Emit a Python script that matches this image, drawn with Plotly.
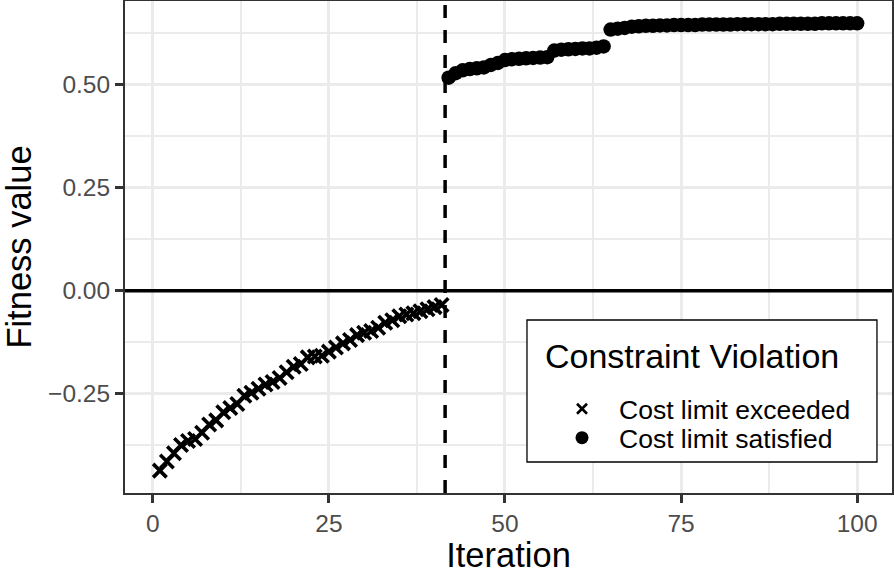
import plotly.graph_objects as go

# Data: fitness value per iteration
exceeded_iter = list(range(1, 42))
exceeded_fit = [-0.437, -0.415, -0.395, -0.375, -0.365, -0.360, -0.345, -0.325, -0.315, -0.295,
                -0.285, -0.275, -0.255, -0.248, -0.238, -0.228, -0.222, -0.212, -0.198, -0.185,
                -0.178, -0.162, -0.160, -0.158, -0.148, -0.138, -0.128, -0.120, -0.108, -0.102,
                -0.098, -0.090, -0.078, -0.072, -0.062, -0.058, -0.055, -0.050, -0.045, -0.040,
                -0.035]
satisfied_iter = list(range(42, 101))
satisfied_fit = [0.517, 0.528, 0.535, 0.538, 0.540, 0.542, 0.548, 0.553, 0.560, 0.562,
                 0.563, 0.564, 0.565, 0.566, 0.567, 0.583, 0.585, 0.586, 0.587, 0.588,
                 0.588, 0.590, 0.593, 0.634, 0.636, 0.638, 0.641, 0.642, 0.643, 0.643,
                 0.644, 0.644, 0.645, 0.645, 0.645, 0.645, 0.646, 0.646, 0.646, 0.646,
                 0.646, 0.647, 0.647, 0.647, 0.647, 0.647, 0.647, 0.648, 0.648, 0.648,
                 0.648, 0.648, 0.648, 0.649, 0.649, 0.649, 0.649, 0.649, 0.649]
first_feasible = 41.5
x_ticks = [0, 25, 50, 75, 100]
x_minor = [12.5, 37.5, 62.5, 87.5]
y_ticks = [-0.25, 0.0, 0.25, 0.50]
y_ticktext = ["\u22120.25", "0.00", "0.25", "0.50"]
y_minor = [-0.375, -0.125, 0.125, 0.375, 0.625]
legend_title = "Constraint Violation"
labels = ["Cost limit exceeded", "Cost limit satisfied"]

FONT = "Liberation Sans, Arial, Helvetica, sans-serif"

allx = exceeded_iter + satisfied_iter
ally = exceeded_fit + satisfied_fit
xr = [min(allx) - 0.05 * (max(allx) - min(allx)), max(allx) + 0.05 * (max(allx) - min(allx))]
yr = [min(ally) - 0.05 * (max(ally) - min(ally)), max(ally) + 0.05 * (max(ally) - min(ally))]

fig = go.Figure()
fig.add_trace(go.Scatter(x=exceeded_iter, y=exceeded_fit, mode="markers", showlegend=False,
                         marker=dict(symbol="x-thin", size=13.5, color="black",
                                     line=dict(width=3.6, color="black"))))
fig.add_trace(go.Scatter(x=satisfied_iter, y=satisfied_fit, mode="markers", showlegend=False,
                         marker=dict(symbol="circle", size=14.5, color="black", line=dict(width=0))))
# legend entries (one legend per entry so that the spacing follows the reference)
fig.add_trace(go.Scatter(x=[None], y=[None], mode="markers", name=labels[0], legend="legend",
                         marker=dict(symbol="x-thin", size=10, color="black",
                                     line=dict(width=2.6, color="black"))))
fig.add_trace(go.Scatter(x=[None], y=[None], mode="markers", name=labels[1], legend="legend2",
                         marker=dict(symbol="circle", size=13, color="black")))

fig.add_hline(y=0, line=dict(color="black", width=3.5))
fig.add_vline(x=first_feasible, line=dict(color="black", width=3.5, dash="13px,12px"))

# legend box (white background with black frame)
fig.add_shape(type="rect", xref="paper", yref="paper", x0=0.5241, x1=0.9804, y0=0.0630, y1=0.3516,
              line=dict(color="black", width=1.3), fillcolor="white", layer="above")
fig.add_annotation(text=legend_title, xref="paper", yref="paper", x=0.5450, y=0.2785,
                   xanchor="left", yanchor="middle", showarrow=False,
                   font=dict(family=FONT, size=34, color="black"))

axis_common = dict(showline=True, linecolor="#333333", linewidth=2, mirror=True,
                   ticks="outside", ticklen=8, tickwidth=2.5, tickcolor="#333333",
                   showgrid=True, gridcolor="#ebebeb", gridwidth=3.2,
                   zeroline=False, automargin=False,
                   tickfont=dict(family=FONT, size=24.5, color="#4d4d4d"))

fig.update_xaxes(range=xr, tickvals=x_ticks,
                 minor=dict(showgrid=True, gridcolor="#ebebeb", gridwidth=1.8, tickvals=x_minor),
                 title=dict(text="Iteration", font=dict(family=FONT, size=34.5, color="black"), standoff=27),
                 **axis_common)
fig.update_yaxes(range=yr, tickvals=y_ticks, ticktext=y_ticktext,
                 minor=dict(showgrid=True, gridcolor="#ebebeb", gridwidth=1.8, tickvals=y_minor),
                 title=dict(text="Fitness value", font=dict(family=FONT, size=34.5, color="black"), standoff=10),
                 **axis_common)

leg_common = dict(font=dict(family=FONT, size=26.5, color="black"),
                  xanchor="left", yanchor="middle", borderwidth=0,
                  bgcolor="rgba(0,0,0,0)", itemwidth=64)

fig.update_layout(
    width=894, height=574,
    margin=dict(l=125, r=2, t=1, b=81, autoexpand=False),
    plot_bgcolor="white", paper_bgcolor="white",
    font=dict(family=FONT, color="black"),
    legend=dict(x=0.5476, y=0.1707, **leg_common),
    legend2=dict(x=0.5476, y=0.1118, **leg_common),
)

fig.write_html("out.html", config={"displayModeBar": False},
               post_script="document.body.style.margin='0px';")
